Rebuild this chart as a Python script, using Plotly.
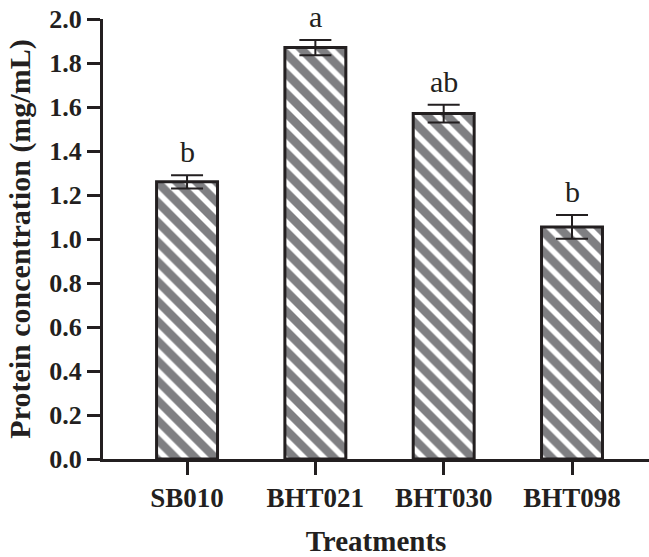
import plotly.graph_objects as go

# Protein concentration per treatment (mean ± error) with significance letters
treatments = ["SB010", "BHT021", "BHT030", "BHT098"]
protein = [1.26, 1.87, 1.57, 1.055]
error = [0.03, 0.035, 0.04, 0.054]
letters = ["b", "a", "ab", "b"]

y_ticks = [0.0, 0.2, 0.4, 0.6, 0.8, 1.0, 1.2, 1.4, 1.6, 1.8, 2.0]

SERIF = "Liberation Serif"
INK = "#231f20"
GREY = "#7f7f82"

fig = go.Figure()
fig.add_trace(go.Bar(
    x=treatments,
    y=protein,
    width=0.475,
    marker=dict(
        color=GREY,
        line=dict(color=INK, width=3),
        pattern=dict(shape="\\", fgcolor="#ffffff", fgopacity=1, bgcolor=GREY,
                     size=14, solidity=0.4, fillmode="overlay"),
    ),
    error_y=dict(type="data", array=error, visible=True,
                 color=INK, thickness=2, width=16),
    showlegend=False,
))

for cat, val, err, lab in zip(treatments, protein, error, letters):
    fig.add_annotation(
        x=cat, y=val + err, text=lab, showarrow=False,
        yanchor="bottom", yshift=5,
        font=dict(family=SERIF, size=30, color=INK),
    )

fig.update_layout(
    width=649, height=557, autosize=False,
    margin=dict(l=103, r=0, t=19, b=98),
    plot_bgcolor="white", paper_bgcolor="white",
)

fig.update_xaxes(
    type="category",
    range=[-0.655, 3.6],
    showline=True, linecolor=INK, linewidth=3,
    ticks="outside", ticklen=13, tickwidth=3, tickcolor=INK,
    tickfont=dict(family=SERIF, size=27, color=INK, weight="bold"),
    title=dict(text="Treatments", standoff=22,
               font=dict(family=SERIF, size=29, color=INK, weight="bold")),
    showgrid=False, zeroline=False,
)

fig.update_yaxes(
    range=[0, 2],
    tickvals=y_ticks,
    ticktext=[f"{v:.1f}" for v in y_ticks],
    showline=True, linecolor=INK, linewidth=3,
    ticks="outside", ticklen=13, tickwidth=3, tickcolor=INK,
    tickfont=dict(family=SERIF, size=26, color=INK, weight="bold"),
    title=dict(text="Protein concentration (mg/mL)", standoff=10,
               font=dict(family=SERIF, size=30, color=INK, weight="bold")),
    showgrid=False, zeroline=False,
)

fig.write_html("out.html")
